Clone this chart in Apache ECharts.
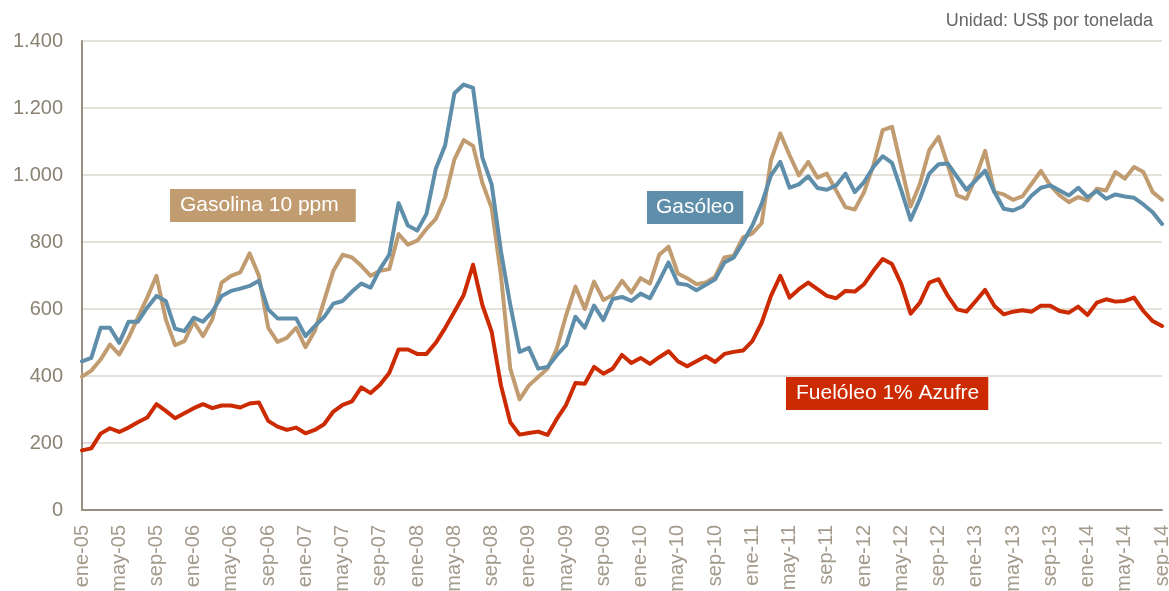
<!DOCTYPE html>
<html>
<head>
<meta charset="utf-8">
<script src="https://cdn.jsdelivr.net/npm/echarts@6/dist/echarts.min.js"></script>
<style>
  html, body { margin: 0; padding: 0; background: #ffffff; }
  #chart { width: 1169px; height: 591px; }
</style>
</head>
<body>
<div id="chart"></div>
<script>
// Monthly prices, ene-05 .. sep-14 (US$ per tonne)
const MONTHS = ['ene', 'feb', 'mar', 'abr', 'may', 'jun', 'jul', 'ago', 'sep', 'oct', 'nov', 'dic'];
const YEARS = ['05', '06', '07', '08', '09', '10', '11', '12', '13', '14'];
const LAST_MONTH_OF_LAST_YEAR = 9; // series ends in sep-14

const gasolina = [
  398, 416, 449, 494, 464, 514, 574, 634, 699, 569,
  492, 504, 562, 519, 569, 679, 699, 709, 766, 699,
  544, 502, 514, 544, 486, 534, 624, 714, 762, 754,
  729, 699, 714, 719, 824, 792, 804, 839, 869, 932,
  1047, 1104, 1087, 977, 902, 700, 422, 330, 372, 397,
  422, 482, 582, 667, 600, 682, 627, 642, 684, 649,
  692, 676, 762, 786, 706, 692, 674, 679, 696, 754,
  759, 814, 826, 856, 1044, 1124, 1059, 999, 1039, 992,
  1004, 954, 904, 897, 949, 1029, 1134, 1144, 1024, 906,
  974, 1074, 1114, 1029, 939, 929, 994, 1072, 949, 942,
  926, 936, 974, 1012, 969, 939, 919, 934, 924, 959,
  954, 1009, 989, 1024, 1009, 949, 926
];

const gasoleo = [
  444, 454, 544, 544, 499, 562, 562, 604, 639, 624,
  541, 534, 574, 562, 592, 639, 654, 661, 669, 684,
  599, 572, 572, 572, 519, 549, 576, 616, 624, 652,
  676, 664, 719, 762, 916, 849, 834, 884, 1019, 1088,
  1244, 1270, 1260, 1052, 972, 772, 612, 472, 484, 422,
  427, 462, 492, 577, 544, 610, 567, 630, 636, 624,
  646, 632, 684, 739, 676, 672, 656, 672, 689, 739,
  754, 799, 849, 914, 999, 1039, 962, 972, 996, 961,
  956, 969, 1004, 949, 979, 1024, 1056, 1036, 954, 866,
  929, 1004, 1032, 1034, 994, 956, 984, 1013, 949, 899,
  894, 906, 939, 962, 969, 954, 939, 962, 934, 952,
  929, 942, 936, 932, 912, 889, 854
];

const fueloleo = [
  178, 184, 228, 244, 233, 246, 262, 276, 316, 296,
  274, 289, 304, 316, 304, 312, 312, 306, 318, 321,
  266, 249, 239, 246, 229, 239, 256, 294, 314, 324,
  366, 349, 374, 409, 479, 479, 466, 466, 499, 543,
  592, 642, 732, 612, 532, 372, 262, 225, 230, 234,
  224, 272, 314, 379, 377, 427, 407, 422, 463, 439,
  454, 436, 456, 474, 444, 429, 444, 459, 442, 466,
  472, 476, 504, 559, 639, 699, 634, 659, 679, 659,
  639, 632, 654, 652, 674, 714, 749, 734, 674, 586,
  619, 679, 689, 639, 599, 592, 624, 657, 609, 584,
  592, 596, 592, 610, 610, 594, 589, 607, 582, 619,
  629, 622, 624, 634, 594, 564, 549
];

// Category labels such as "ene-05", "feb-05", ...
const categories = [];
YEARS.forEach((y, yi) => {
  const n = yi === YEARS.length - 1 ? LAST_MONTH_OF_LAST_YEAR : 12;
  for (let m = 0; m < n; m++) categories.push(MONTHS[m] + '-' + y);
});

const FONT = '"Liberation Sans", Arial, Helvetica, sans-serif';
const C_GASOLINA = '#c19c71';
const C_GASOLEO = '#5e8eaa';
const C_FUEL = '#cc2a00';

function thousands(v) {
  return String(v).replace(/\B(?=(\d{3})+(?!\d))/g, '.');
}

const chart = echarts.init(document.getElementById('chart'), null, { renderer: 'canvas' });

chart.setOption({
  animation: false,
  backgroundColor: '#ffffff',
  textStyle: { fontFamily: FONT },
  title: [
    {
      text: 'Unidad: US$ por tonelada',
      right: 16, top: 12, padding: 0,
      textStyle: { color: '#666666', fontSize: 18, fontWeight: 'normal', fontFamily: FONT }
    },
    {
      text: 'Gasolina 10 ppm',
      left: 170, top: 189, padding: [6, 17, 6, 10],
      backgroundColor: C_GASOLINA,
      textStyle: { color: '#ffffff', fontSize: 21, fontWeight: 'normal', fontFamily: FONT }
    },
    {
      text: 'Gasóleo',
      left: 647, top: 191, padding: [6, 9, 6, 9],
      backgroundColor: C_GASOLEO,
      textStyle: { color: '#ffffff', fontSize: 21, fontWeight: 'normal', fontFamily: FONT }
    },
    {
      text: 'Fuelóleo 1% Azufre',
      left: 786, top: 377, padding: [6, 9, 6, 10],
      backgroundColor: C_FUEL,
      textStyle: { color: '#ffffff', fontSize: 21, fontWeight: 'normal', fontFamily: FONT }
    }
  ],
  grid: {
    left: 82, right: 7, top: 41, bottom: 81,
    containLabel: false,
    outerBoundsMode: 'none'
  },
  xAxis: {
    type: 'category',
    data: categories,
    boundaryGap: false,
    axisLine: { show: true, lineStyle: { color: '#9a8f80', width: 2 } },
    axisTick: { show: false },
    axisLabel: {
      interval: 3,
      rotate: 90,
      margin: 15,
      color: '#a39a8c',
      fontSize: 20,
      fontFamily: FONT
    },
    splitLine: { show: false }
  },
  yAxis: {
    type: 'value',
    min: 0,
    max: 1400,
    interval: 200,
    axisLine: { show: true, lineStyle: { color: '#9a8f80', width: 2 } },
    axisTick: { show: false },
    axisLabel: {
      margin: 19,
      color: '#8a8373',
      fontSize: 20,
      fontFamily: FONT,
      formatter: thousands
    },
    splitLine: { show: true, lineStyle: { color: '#e4e1db', width: 2 } }
  },
  series: [
    {
      name: 'Gasolina 10 ppm', type: 'line', data: gasolina,
      symbol: 'none', smooth: false,
      lineStyle: { color: C_GASOLINA, width: 4, join: 'round', cap: 'round' }
    },
    {
      name: 'Gasóleo', type: 'line', data: gasoleo,
      symbol: 'none', smooth: false,
      lineStyle: { color: C_GASOLEO, width: 4, join: 'round', cap: 'round' }
    },
    {
      name: 'Fuelóleo 1% Azufre', type: 'line', data: fueloleo,
      symbol: 'none', smooth: false,
      lineStyle: { color: C_FUEL, width: 4, join: 'round', cap: 'round' }
    }
  ]
});
</script>
</body>
</html>
